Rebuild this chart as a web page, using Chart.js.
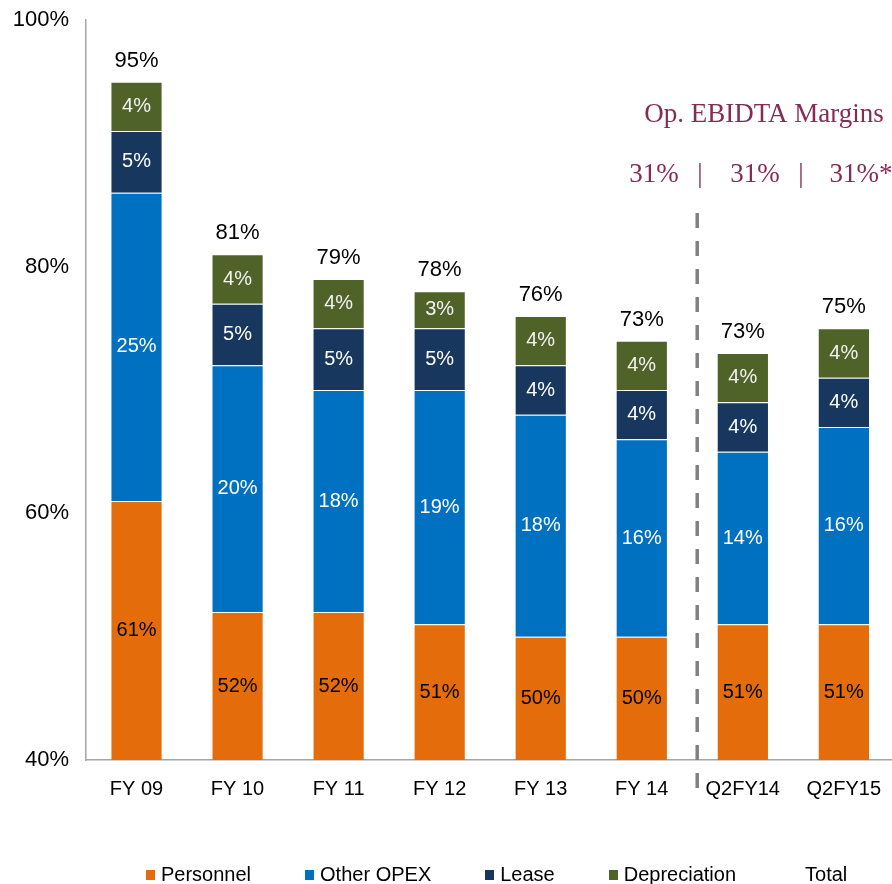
<!DOCTYPE html>
<html>
<head>
<meta charset="utf-8">
<title>Cost structure</title>
<script src="https://cdn.jsdelivr.net/npm/chart.js@4.4.1/dist/chart.umd.min.js"></script>
<style>
  html, body { margin: 0; padding: 0; background: #fff; }
  #wrap { position: relative; width: 892px; height: 884px; overflow: hidden; }
  #legend {
    position: absolute; left: 146px; top: 863px;
    display: flex; gap: 54px; align-items: center;
    font-family: "Liberation Sans", Arial, sans-serif; font-size: 20px; color: #000;
  }
  .item { display: flex; align-items: center; }
  .box { width: 9px; height: 10px; margin-right: 6px; }
</style>
</head>
<body>
<div id="wrap">
  <canvas id="chart" width="898" height="884"></canvas>
  <div id="legend"></div>
</div>
<script>
// values (percent of revenue)
const categories = ['FY 09', 'FY 10', 'FY 11', 'FY 12', 'FY 13', 'FY 14', 'Q2FY14', 'Q2FY15'];
const personnel = [61, 52, 52, 51, 50, 50, 51, 51];
const otherOpex = [25, 20, 18, 19, 18, 16, 14, 16];
const lease = [5, 5, 5, 5, 4, 4, 4, 4];
const depreciation = [4, 4, 4, 3, 4, 4, 4, 4];
const totals = [95, 81, 79, 78, 76, 73, 73, 75];
const yTicks = [40, 60, 80, 100];
const marginTitle = 'Op. EBIDTA Margins';
const marginValues = ['31%', '31%', '31%*'];

const sans = '"Liberation Sans", Arial, sans-serif';
const serif = '"Liberation Serif", "Times New Roman", serif';
const maroon = '#862a56';
const pageW = 892;

// labels inside segments + totals on top
const labelPlugin = {
  id: 'segLabels',
  afterDatasetsDraw(chart) {
    const { ctx, chartArea } = chart;
    ctx.save();
    ctx.textAlign = 'center';
    ctx.textBaseline = 'middle';
    chart.data.datasets.forEach((ds, di) => {
      if (ds.type === 'line') return;
      const meta = chart.getDatasetMeta(di);
      meta.data.forEach((bar, i) => {
        const base = Math.min(bar.base, chartArea.bottom);
        ctx.font = '20px ' + sans;
        ctx.fillStyle = ds.labelColor;
        ctx.fillText(ds.data[i] + '%', bar.x, (bar.y + base) / 2);
      });
    });
    const topMeta = chart.getDatasetMeta(3);
    ctx.font = '22px ' + sans;
    ctx.fillStyle = '#000';
    topMeta.data.forEach((bar, i) => {
      ctx.fillText(totals[i] + '%', bar.x, bar.y - 21);
    });
    ctx.restore();
  }
};

// dashed separator + EBIDTA margin note
const notePlugin = {
  id: 'note',
  afterDraw(chart) {
    const { ctx, chartArea, scales: { x } } = chart;
    const sepX = (x.getPixelForValue(5) + x.getPixelForValue(6)) / 2 + 5;
    ctx.save();
    ctx.strokeStyle = '#808080';
    ctx.lineWidth = 3.5;
    ctx.setLineDash([15, 13]);
    ctx.beginPath();
    ctx.moveTo(sepX, chartArea.top + 193);
    ctx.lineTo(sepX, chartArea.bottom + 30);
    ctx.stroke();

    ctx.fillStyle = maroon;
    ctx.textAlign = 'center';
    ctx.textBaseline = 'middle';
    ctx.font = '27px ' + serif;
    ctx.fillText(marginTitle, pageW - 128, chartArea.top + 95);
    const xs = [-238, -137, -31];
    marginValues.forEach((v, i) => ctx.fillText(v, pageW + xs[i], chartArea.top + 155));
    ctx.fillText('|', pageW - 192, chartArea.top + 155);
    ctx.fillText('|', pageW - 91, chartArea.top + 155);
    ctx.restore();
  }
};

const chart = new Chart(document.getElementById('chart'), {
  type: 'bar',
  data: {
    labels: categories,
    datasets: [
      { label: 'Personnel', data: personnel, backgroundColor: '#e46c0a', labelColor: '#000' },
      { label: 'Other OPEX', data: otherOpex, backgroundColor: '#0070c0', labelColor: '#fff' },
      { label: 'Lease', data: lease, backgroundColor: '#17375e', labelColor: '#fff' },
      { label: 'Depreciation', data: depreciation, backgroundColor: '#4f6228', labelColor: '#f2f2f2' },
      { label: 'Total', type: 'line', data: totals, stack: 'total', showLine: false, pointRadius: 0,
        borderColor: 'transparent', backgroundColor: 'transparent' }
    ]
  },
  options: {
    responsive: false,
    animation: false,
    datasets: {
      bar: {
        barPercentage: 0.5, categoryPercentage: 1,
        borderWidth: { top: 1, left: 0, right: 0, bottom: 0 },
        borderColor: 'rgba(255,255,255,0.3)', borderSkipped: false
      }
    },
    layout: { padding: { top: 20, right: 0, bottom: 66, left: 0 } },
    plugins: { legend: { display: false }, tooltip: { enabled: false } },
    scales: {
      x: {
        stacked: true,
        grid: { display: false, drawTicks: false },
        border: { display: true, color: '#a6a6a6', width: 1.5 },
        ticks: { color: '#000', padding: 17, font: { family: sans, size: 20 }, maxRotation: 0 }
      },
      y: {
        stacked: true,
        min: 40, max: 100,
        afterFit(scale) { scale.width = 86; scale.paddingTop = 0; scale.paddingBottom = 0; },
        afterBuildTicks(scale) { scale.ticks = yTicks.map(v => ({ value: v })); },
        grid: { display: false, drawTicks: false },
        border: { display: true, color: '#a6a6a6', width: 1.5 },
        ticks: { color: '#000', padding: 17, font: { family: sans, size: 22 },
          callback: v => v + '%' }
      }
    }
  },
  plugins: [labelPlugin, notePlugin]
});

// legend
const legend = document.getElementById('legend');
chart.data.datasets.forEach(ds => {
  const item = document.createElement('div');
  item.className = 'item';
  const box = document.createElement('span');
  box.className = 'box';
  box.style.background = ds.backgroundColor;
  item.appendChild(box);
  item.appendChild(document.createTextNode(ds.label));
  legend.appendChild(item);
});
</script>
</body>
</html>
